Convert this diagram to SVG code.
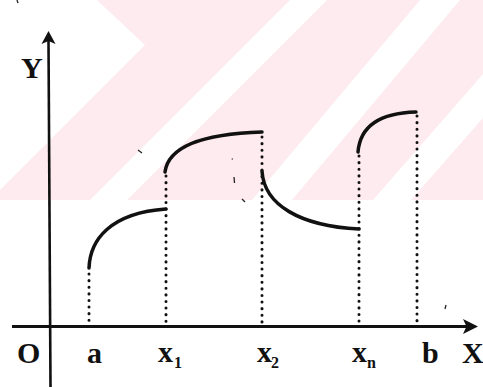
<svg xmlns="http://www.w3.org/2000/svg" width="483" height="387" viewBox="0 0 483 387">
<style>
.wm{fill:#fdebef}
.wh{fill:#ffffff}
.ax{stroke:#111;fill:none}
.cv{stroke:#111;stroke-width:3.5;fill:none;stroke-linecap:round}
.dt{stroke:#111;stroke-width:3;fill:none;stroke-linecap:round;stroke-dasharray:0.1 6.5}
.lb{font-family:"Liberation Serif","Times New Roman",serif;font-weight:bold;fill:#111;font-size:30px}
.sb{font-family:"Liberation Serif","Times New Roman",serif;font-weight:bold;fill:#111;font-size:16px}
.sp{stroke:#222;stroke-width:1.3;fill:none}
</style>
<rect width="483" height="387" fill="#fff"/>
<g id="watermark">
<rect class="wm" x="0" y="0" width="483" height="200"/>
<polygon class="wh" points="0,0 97,0 145,45 0,190"/>
<polygon class="wh" points="290,0 327,0 127,200 90,200"/>
<polygon class="wh" points="420,0 460,0 292,200 252,200"/>
<polygon class="wh" points="373,200 411,200 483,118 483,74"/>
</g>
<g id="axes">
<line class="ax" x1="48.5" y1="40" x2="50.5" y2="387" stroke-width="2.6"/>
<polygon points="48.5,31 55.5,44 48.5,41 41.5,44" fill="#111"/>
<line class="ax" x1="12" y1="326.5" x2="467" y2="326.5" stroke-width="3.2"/>
<polygon points="478,326.5 463,319 466.5,326.5 463,334" fill="#111"/>
</g>
<g id="connectors">
<path class="dt" d="M89,274 V326"/>
<path class="dt" d="M166,176 V326"/>
<path class="dt" d="M262,137 V326"/>
<path class="dt" d="M359,156 V326"/>
<path class="dt" d="M417,116 V326"/>
</g>
<g id="curves">
<path class="cv" d="M89,268 C90,240 110,213 166,209"/>
<path class="cv" d="M165,172 C168,150 195,134 262,132"/>
<path class="cv" d="M262,171 C264,205 300,226 359,229"/>
<path class="cv" d="M358,152 C360,128 378,113 416,112"/>
</g>
<g id="labels">
<text class="lb" x="21" y="78" font-size="32">Y</text>
<text class="lb" x="17" y="363">O</text>
<text class="lb" x="87" y="363">a</text>
<text class="lb" x="158" y="362">x</text><text class="sb" x="174" y="368">1</text>
<text class="lb" x="257" y="362">x</text><text class="sb" x="271" y="368">2</text>
<text class="lb" x="352" y="362">x</text><text class="sb" x="367" y="368">n</text>
<text class="lb" x="422" y="363">b</text>
<text class="lb" x="462" y="363">X</text>
</g>
<g id="specks">
<path class="sp" d="M138,150 L142,153"/>
<path class="sp" d="M232,158.5 L232.5,159.5"/>
<path class="sp" d="M234,177 L234.5,183"/>
<path class="sp" d="M242,199 L245,202"/>
<path class="sp" d="M446,305 L445,309"/>
<path class="sp" d="M17,0 L18,3"/>
</g>
</svg>
